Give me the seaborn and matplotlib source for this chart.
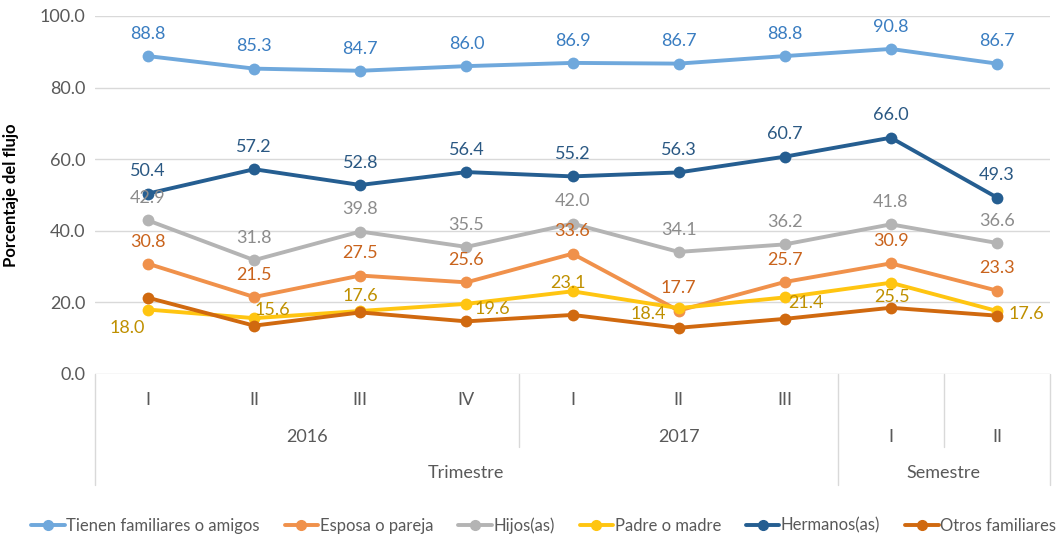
import matplotlib
matplotlib.use("Agg")
import matplotlib.pyplot as plt
import matplotlib.transforms as mtransforms
from matplotlib.lines import Line2D
import pandas as pd
import seaborn as sns

sns.set_theme(style="white")
plt.rcParams["font.family"] = ["Lato", "DejaVu Sans"]

# categorias del eje x
periodos = ["I", "II", "III", "IV", "I", "II", "III", "I", "II"]
anios = ["2016", "2017"]
tipos = ["Trimestre", "Semestre"]

series = ["Tienen familiares o amigos", "Esposa o pareja", "Hijos(as)",
          "Padre o madre", "Hermanos(as)", "Otros familiares"]

tienen = [88.8, 85.3, 84.7, 86.0, 86.9, 86.7, 88.8, 90.8, 86.7]
esposa = [30.8, 21.5, 27.5, 25.6, 33.6, 17.7, 25.7, 30.9, 23.3]
hijos = [42.9, 31.8, 39.8, 35.5, 42.0, 34.1, 36.2, 41.8, 36.6]
padre = [18.0, 15.6, 17.6, 19.6, 23.1, 18.4, 21.4, 25.5, 17.6]
hermanos = [50.4, 57.2, 52.8, 56.4, 55.2, 56.3, 60.7, 66.0, 49.3]
otros = [21.3, 13.5, 17.2, 14.7, 16.5, 12.9, 15.4, 18.5, 16.3]

valores = [tienen, esposa, hijos, padre, hermanos, otros]

colores = ["#6FA8DC", "#F0914B", "#B4B4B4", "#FFC511", "#255E91", "#D0690F"]
colores_etiqueta = ["#3A7DC1", "#C9631C", "#8C8C8C", "#BF9000", "#2A5883", None]

# desplazamientos (en puntos) de las etiquetas de "Padre o madre"
desp_padre = [(-15, -13), (13, 6), (0, 11), (19, -4), (-3, 6),
              (-22, -4), (15, -4), (1, -10), (21, -2)]

filas = []
for nombre, vals in zip(series, valores):
    for i, v in enumerate(vals):
        filas.append({"pos": i, "valor": v, "serie": nombre})
df = pd.DataFrame(filas)

fig = plt.figure(figsize=(10.62, 5.35), dpi=100)
ax = fig.add_axes([95 / 1062, 161 / 535, 955 / 1062, 358 / 535])

sns.lineplot(data=df, x="pos", y="valor", hue="serie", hue_order=series,
             palette=dict(zip(series, colores)), marker="o", markersize=8.5,
             markeredgewidth=0, linewidth=2.8, sort=False, legend=False, ax=ax)

# etiquetas de datos
for nombre, vals, col, col_txt in zip(series, valores, colores, colores_etiqueta):
    if col_txt is None:
        continue
    for i, v in enumerate(vals):
        if nombre == "Padre o madre":
            off = desp_padre[i]
        else:
            off = (0, 16)
        ax.annotate(f"{v:.1f}", (i, v), xytext=off, textcoords="offset points",
                    ha="center", va="center", fontsize=13, color=col_txt)

ax.set_xlim(-0.5, 8.5)
ax.set_ylim(0, 100)
ax.set_yticks(range(0, 101, 20))
ax.set_yticklabels([f"{t:.1f}" for t in range(0, 101, 20)], fontsize=13, color="#595959")
ax.tick_params(axis="y", length=0, pad=7)
ax.set_xticks([])
ax.set_xlabel("")
ax.grid(axis="y", color="#D9D9D9", linewidth=1)
ax.set_axisbelow(True)
for s in ax.spines.values():
    s.set_visible(False)

ax.set_ylabel("Porcentaje del flujo", fontsize=12, fontweight="bold", color="black")
ax.yaxis.set_label_coords(-0.08, 0.5)

# eje de categorias en varios niveles
trans = mtransforms.blended_transform_factory(ax.transData, ax.transAxes)
gris = "#595959"
for i in range(7):
    ax.text(i, -0.073, periodos[i], transform=trans, ha="center", va="center",
            fontsize=13, color=gris, clip_on=False)
for i in range(7, 9):
    ax.text(i, -0.176, periodos[i], transform=trans, ha="center", va="center",
            fontsize=13, color=gris, clip_on=False)
ax.text(1.5, -0.176, anios[0], transform=trans, ha="center", va="center",
        fontsize=13, color=gris, clip_on=False)
ax.text(5, -0.176, anios[1], transform=trans, ha="center", va="center",
        fontsize=13, color=gris, clip_on=False)
ax.text(3, -0.277, tipos[0], transform=trans, ha="center", va="center",
        fontsize=13, color=gris, clip_on=False)
ax.text(7.5, -0.277, tipos[1], transform=trans, ha="center", va="center",
        fontsize=13, color=gris, clip_on=False)

for xs, y_fin in [(-0.5, -0.31), (3.5, -0.204), (6.5, -0.31), (7.5, -0.204), (8.5, -0.31)]:
    ax.plot([xs, xs], [0, y_fin], transform=trans, color="#D9D9D9",
            linewidth=1, clip_on=False)

# leyenda
manejadores = [Line2D([0], [0], color=c, linewidth=2.8, marker="o", markersize=7)
               for c in colores]
fig.legend(manejadores, series, loc="center", bbox_to_anchor=(0.512, 0.018), ncol=6,
           frameon=False, fontsize=12, handlelength=2.0, handletextpad=0.1,
           columnspacing=1.5, labelcolor=gris)

fig.savefig("out.png", dpi=100)
